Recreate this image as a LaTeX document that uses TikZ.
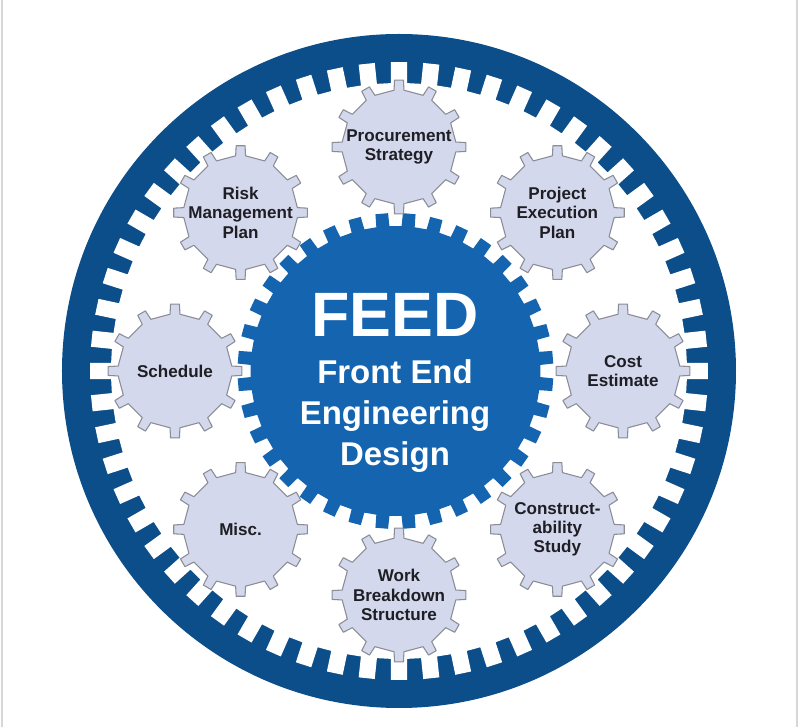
\documentclass[tikz,border=0pt]{standalone}
\usepackage{fontspec}
\setmainfont{Liberation Sans}
\usetikzlibrary{positioning}

\definecolor{ringblue}{RGB}{12,78,138}
\definecolor{hubblue}{RGB}{20,100,176}
\definecolor{cogfill}{RGB}{212,216,236}
\definecolor{cogline}{RGB}{138,140,150}
\definecolor{labeltext}{RGB}{30,30,36}
\definecolor{framegray}{RGB}{215,215,215}

\tikzstyle{cog} = [fill=cogfill, draw=cogline, line width=0.8pt, line join=round]
\tikzstyle{coglabel} = [font=\fontsize{12.8}{14.5}\selectfont\bfseries, text=labeltext, align=center, inner sep=0pt]
\tikzstyle{hubtext} = [font=\fontsize{24.7}{30.8}\selectfont\bfseries, text=white, align=center, inner sep=0pt]

\begin{document}
\begin{tikzpicture}[x=0.75pt, y=0.75pt]
        \useasboundingbox (-399,-356) rectangle (401,371);
        \draw [framegray, line width=1.2pt] (-397,-356) -- (-397,371);
        \draw [framegray, line width=1.2pt] (398,-356) -- (398,371);
        % outer ring, teeth pointing in
        \fill [ringblue] (0,0) circle (337);
        \fill [white] (-1.6:288) \foreach \a in {0,6,...,354} {-- ({\a-1.6}:288) -- ({\a-1.5}:309) -- ({\a+1.5}:309) -- ({\a+1.6}:288)} -- cycle;
        % hub
        \begin{scope}[shift={(-3.5,0)}]
          \fill [hubblue] (2.4:145) \foreach \a in {0,10,...,350} {-- ({\a+5-2.6}:145) -- ({\a+5-2.3}:158) -- ({\a+5+2.3}:158) -- ({\a+5+2.6}:145)} -- cycle;
        \end{scope}
        \node [font=\fontsize{47}{50}\selectfont\bfseries, text=white, inner sep=0pt, anchor=base] (feed) at (-4,34) {FEED};
        \node [hubtext, below=16.5pt of feed] (fullname) {Front End\\Engineering\\Design};
        % small cogs
        \foreach \ang/\nm/\txt in {90/procurement/{Procurement\\Strategy}, 45/execution/{Project\\Execution\\Plan}, 0/cost/{Cost\\Estimate}, -45/constructability/{Construct-\\ability\\Study}, -90/wbs/{Work\\Breakdown\\Structure}, -135/misc/{Misc.}, 180/schedule/{Schedule}, 135/risk/{Risk\\Management\\Plan}} {
          \begin{scope}[shift={(\ang:224)}]
            \filldraw [cog] (-5:57) \foreach \k in {0,30,...,330} {-- ({\k-5}:57) -- ({\k-3.8}:67) -- ({\k+3.8}:67) -- ({\k+5}:57)} -- cycle;
          \end{scope}
          \node [coglabel] (\nm) at (\ang:224) {\txt};
        }
\end{tikzpicture}
\end{document}
